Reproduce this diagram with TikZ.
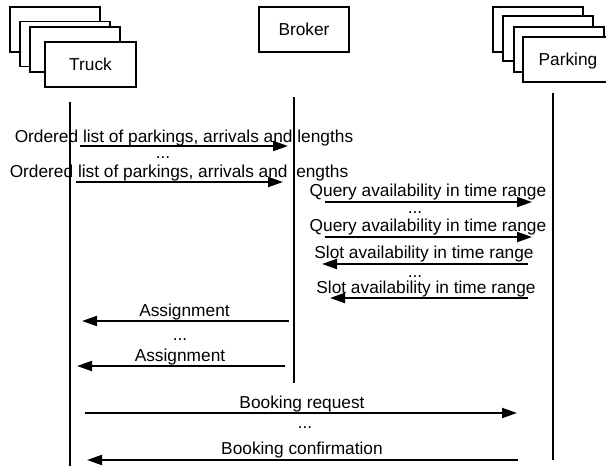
\documentclass[tikz,border=0pt]{standalone}
\usepackage{fontspec}
\setmainfont{Liberation Sans}
\usetikzlibrary{arrows.meta}
\begin{document}
\begin{tikzpicture}[x=1pt,y=-1pt,
  box/.style={draw,line width=1.8pt,fill=white,inner sep=0pt,
    minimum width=90pt,minimum height=45pt,font=\fontsize{17.3}{20}\selectfont},
  life/.style={line width=1.8pt},
  msg/.style={line width=2pt,-{Triangle[length=15pt,width=10pt]}},
  lbl/.style={anchor=base,inner sep=0pt,font=\fontsize{17.3}{20}\selectfont},
]
\clip (0,0) rectangle (606,466);
\fill[white] (0,0) rectangle (606,466);

% Truck instances (stacked)
\node[box] (truckA) at (55,29.5) {};
\node[box] (truckB) at (65,44) {};
\node[box] (truckC) at (75,49.5) {};
\node[box,minimum width=91pt] (truck) at (90.5,64.5) {Truck};

% Broker
\node[box] (broker) at (304,29.5) {Broker};

% Parking instances (stacked)
\node[box] (parkA) at (538,29.5) {};
\node[box] (parkB) at (548,38.5) {};
\node[box] (parkC) at (559,49.5) {};
\node[box,text depth=0pt] (parking) at (568,59.5) {Parking};

% Lifelines
\coordinate (tTop) at (70,102);  \coordinate (tBot) at (70,468);
\coordinate (bTop) at (294,97);  \coordinate (bBot) at (294,383);
\coordinate (pTop) at (553,93);  \coordinate (pBot) at (553,460);
\draw[life] (tTop) -- (tBot);
\draw[life] (bTop) -- (bBot);
\draw[life] (pTop) -- (pBot);

% Truck -> Broker
\coordinate (m1s) at (80,146);  \coordinate (m1e) at (288,146);
\coordinate (m2s) at (76,182);  \coordinate (m2e) at (283,182);
\draw[msg] (m1s) -- (m1e);
\draw[msg] (m2s) -- (m2e);
\node[lbl] (l1) at (184,142) {Ordered list of parkings, arrivals and lengths};
\node[lbl] (d1) at (163,158) {...};
\node[lbl] (l2) at (179,177) {Ordered list of parkings, arrivals and lengths};

% Broker -> Parking
\coordinate (m3s) at (325,202); \coordinate (m3e) at (532,202);
\coordinate (m4s) at (325,237); \coordinate (m4e) at (532,237);
\draw[msg] (m3s) -- (m3e);
\draw[msg] (m4s) -- (m4e);
\node[lbl] (l3) at (428,196) {Query availability in time range};
\node[lbl] (d2) at (415,213) {...};
\node[lbl] (l4) at (428,231) {Query availability in time range};

% Parking -> Broker
\coordinate (m5s) at (528,264); \coordinate (m5e) at (322,264);
\coordinate (m6s) at (528,298); \coordinate (m6e) at (330,298);
\draw[msg] (m5s) -- (m5e);
\draw[msg] (m6s) -- (m6e);
\node[lbl] (l5) at (424,258) {Slot availability in time range};
\node[lbl] (d3) at (415,277) {...};
\node[lbl] (l6) at (426,293) {Slot availability in time range};

% Broker -> Truck
\coordinate (m7s) at (289,321); \coordinate (m7e) at (82,321);
\coordinate (m8s) at (285,366); \coordinate (m8e) at (77,366);
\draw[msg] (m7s) -- (m7e);
\draw[msg] (m8s) -- (m8e);
\node[lbl] (l7) at (184.5,316) {Assignment};
\node[lbl] (d4) at (180,340) {...};
\node[lbl] (l8) at (180,361) {Assignment};

% Truck <-> Parking
\coordinate (m9s) at (85,413);  \coordinate (m9e) at (517,413);
\coordinate (m10s) at (518,460); \coordinate (m10e) at (87,460);
\draw[msg] (m9s) -- (m9e);
\draw[msg] (m10s) -- (m10e);
\node[lbl] (l9) at (302,408) {Booking request};
\node[lbl] (d5) at (305,428) {...};
\node[lbl] (l10) at (302,454) {Booking confirmation};
\end{tikzpicture}
\end{document}
